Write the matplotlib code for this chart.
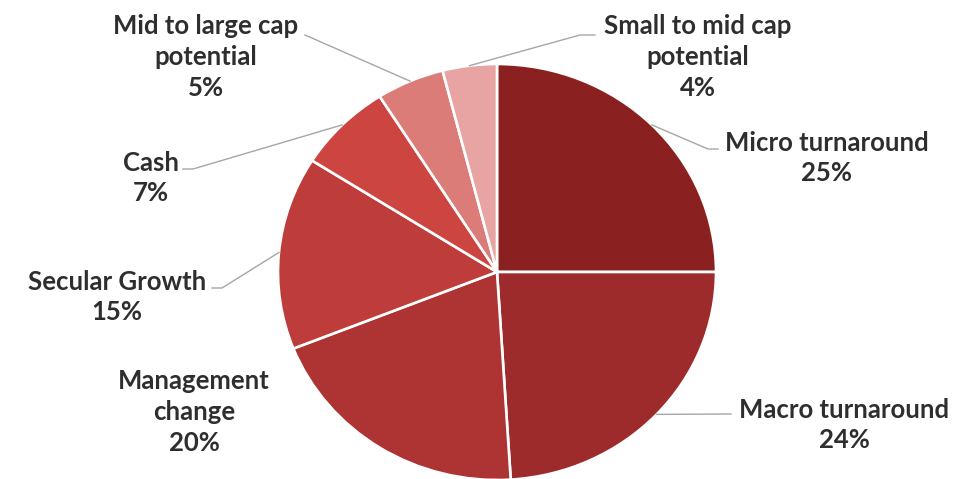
# Portfolio split by idea type - pie chart

import numpy as np
import matplotlib
matplotlib.use('Agg')
from matplotlib import pyplot as plt

labels = ['Micro turnaround', 'Macro turnaround', 'Management\nchange', 'Secular Growth',
          'Cash', 'Mid to large cap\npotential', 'Small to mid cap\npotential']
values = [25, 24, 20, 15, 7, 5, 4]
colors = ['#8A2020', '#9E2B2B', '#AD3432', '#BE3C39', '#CC4540', '#DB7C79', '#E8A3A3']

# layout in pixels: pie centre / radii, label centres, leader elbows
W, H = 956, 479
cx, cy, rx, ry = 497, 272, 219, 208
text_pos = [(827, 158), (844, 425), (194, 412), (117, 297), (151, 178), (206, 57), (698, 57)]
leaders = [[(708, 149), (718, 149)], [(731, 414)], None, [(222, 288), (212, 288)],
           [(193, 169), (183, 169)], [(305, 35)], [(580, 35), (595, 35)]]


def to_unit(px, py):
    return (px - cx) / rx, (cy - py) / ry


fig = plt.figure(figsize=(W / 100, H / 100), dpi=100)
ax = fig.add_axes([0, 0, 1, 1])

wedges, _ = ax.pie(values, colors=colors, startangle=90, counterclock=False,
                   radius=1, center=(0, 0),
                   wedgeprops=dict(edgecolor='white', linewidth=1.9))

ax.set_aspect('auto')
ax.set_xlim(to_unit(0, 0)[0], to_unit(W, 0)[0])
ax.set_ylim(to_unit(0, H)[1], to_unit(0, 0)[1])
ax.axis('off')

for w, lab, v, tp, ld in zip(wedges, labels, values, text_pos, leaders):
    tx, ty = to_unit(*tp)
    ax.text(tx, ty, '%s\n%d%%' % (lab, v), ha='center', va='center',
            multialignment='center', fontsize=18.5, fontweight='bold',
            family='Lato', color='#2E2E2E', linespacing=1.33)
    if ld is None:
        continue
    ang = np.deg2rad((w.theta1 + w.theta2) / 2)
    xs = [np.cos(ang)] + [to_unit(*p)[0] for p in ld]
    ys = [np.sin(ang)] + [to_unit(*p)[1] for p in ld]
    ax.plot(xs, ys, color='#A6A6A6', lw=1.0)

plt.savefig('out.png', dpi=100)
